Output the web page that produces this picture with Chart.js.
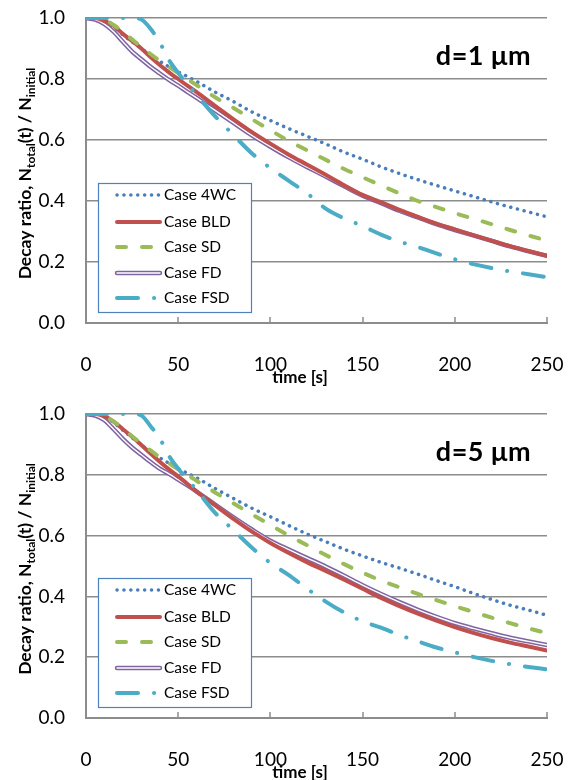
<!DOCTYPE html>
<html>
<head>
<meta charset="utf-8">
<script src="https://cdn.jsdelivr.net/npm/chart.js@4.4.1/dist/chart.umd.min.js"></script>
<style>
  body { margin: 0; background: #fff; }
  canvas { display: block; }
</style>
</head>
<body>
<canvas id="plot_d1" width="568" height="393"></canvas>
<canvas id="plot_d5" width="568" height="387"></canvas>
<script>
// time axis (s), shared by every curve
const times = [0, 5, 10, 15, 20, 25, 30, 35, 40, 45, 50, 55, 60, 70, 80, 90, 100, 110, 120, 130, 140, 150, 160, 170, 180, 190, 200, 210, 220, 230, 240, 250];
const xTicks = [0, 50, 100, 150, 200, 250];
const caseLabels = ["Case 4WC", "Case BLD", "Case SD", "Case FD", "Case FSD"];

// d = 1 um
const d1_4WC = [1.0, 1.0, 0.993, 0.972, 0.945, 0.922, 0.900, 0.878, 0.858, 0.840, 0.823, 0.808, 0.792, 0.757, 0.726, 0.692, 0.664, 0.637, 0.612, 0.587, 0.560, 0.537, 0.512, 0.490, 0.470, 0.451, 0.433, 0.415, 0.397, 0.380, 0.364, 0.348];
const d1_BLD = [1.0, 1.0, 0.990, 0.975, 0.948, 0.925, 0.900, 0.872, 0.846, 0.822, 0.800, 0.778, 0.757, 0.712, 0.668, 0.626, 0.588, 0.552, 0.519, 0.486, 0.452, 0.420, 0.396, 0.371, 0.348, 0.326, 0.307, 0.288, 0.270, 0.252, 0.236, 0.220];
const d1_SD  = [1.0, 1.0, 0.995, 0.977, 0.955, 0.930, 0.905, 0.882, 0.860, 0.840, 0.820, 0.800, 0.780, 0.740, 0.705, 0.668, 0.632, 0.597, 0.566, 0.535, 0.505, 0.478, 0.451, 0.425, 0.400, 0.380, 0.360, 0.342, 0.324, 0.305, 0.287, 0.270];
const d1_FD  = [1.0, 0.995, 0.980, 0.955, 0.922, 0.890, 0.865, 0.840, 0.818, 0.797, 0.778, 0.758, 0.738, 0.697, 0.656, 0.615, 0.578, 0.543, 0.511, 0.480, 0.448, 0.417, 0.393, 0.368, 0.346, 0.324, 0.305, 0.287, 0.269, 0.251, 0.235, 0.220];
const d1_FSD = [1.0, 1.0, 1.0, 1.0, 1.0, 1.0, 0.995, 0.965, 0.920, 0.862, 0.820, 0.783, 0.748, 0.678, 0.616, 0.556, 0.508, 0.466, 0.425, 0.375, 0.343, 0.318, 0.290, 0.267, 0.249, 0.228, 0.209, 0.193, 0.180, 0.169, 0.160, 0.150];

// d = 5 um
const d5_4WC = [1.0, 1.0, 0.993, 0.972, 0.947, 0.922, 0.898, 0.876, 0.856, 0.838, 0.820, 0.805, 0.790, 0.755, 0.722, 0.690, 0.662, 0.633, 0.605, 0.580, 0.555, 0.533, 0.512, 0.493, 0.473, 0.452, 0.432, 0.410, 0.390, 0.371, 0.355, 0.338];
const d5_BLD = [1.0, 1.0, 0.993, 0.975, 0.950, 0.925, 0.898, 0.870, 0.843, 0.818, 0.795, 0.770, 0.745, 0.700, 0.655, 0.613, 0.576, 0.543, 0.512, 0.484, 0.455, 0.425, 0.395, 0.368, 0.343, 0.320, 0.299, 0.280, 0.263, 0.248, 0.235, 0.222];
const d5_SD  = [1.0, 1.0, 0.993, 0.975, 0.952, 0.927, 0.902, 0.880, 0.858, 0.838, 0.818, 0.800, 0.780, 0.742, 0.706, 0.670, 0.635, 0.600, 0.568, 0.536, 0.506, 0.478, 0.452, 0.430, 0.408, 0.388, 0.368, 0.349, 0.330, 0.312, 0.295, 0.279];
const d5_FD  = [1.0, 0.995, 0.980, 0.950, 0.918, 0.890, 0.866, 0.842, 0.820, 0.803, 0.784, 0.765, 0.745, 0.702, 0.660, 0.620, 0.583, 0.554, 0.526, 0.498, 0.468, 0.437, 0.408, 0.381, 0.356, 0.333, 0.312, 0.295, 0.279, 0.264, 0.252, 0.240];
const d5_FSD = [1.0, 1.0, 1.0, 1.0, 1.0, 1.0, 0.995, 0.960, 0.920, 0.862, 0.820, 0.785, 0.750, 0.675, 0.618, 0.560, 0.510, 0.470, 0.425, 0.383, 0.347, 0.318, 0.297, 0.273, 0.252, 0.232, 0.216, 0.201, 0.188, 0.177, 0.168, 0.160];

// line looks, in caseLabels order
const styles = [
  { color: "#4A7EBB", width: 3.5, dash: [0.1, 6.8] },
  { color: "#C0504D", width: 4, dash: [] },
  { color: "#9BBB59", width: 4, dash: [9, 16] },
  { color: "#8064A2", width: 4.5, dash: [], inner: "#ffffff" },
  { color: "#4BACC6", width: 4, dash: [21, 16, 0.1, 16] },
];
const drawOrder = [3, 2, 1, 5, 0]; // lower is drawn on top

const FONT = "Lato, 'Open Sans', sans-serif";
const GRID = "#8C8C8C";

function points(values) {
  return values.map((v, i) => ({ x: times[i], y: v }));
}

function buildDatasets(all) {
  const sets = [];
  all.forEach((values, i) => {
    const s = styles[i];
    sets.push({
      label: caseLabels[i],
      data: points(values),
      borderColor: s.color,
      borderWidth: s.width,
      borderDash: s.dash,
      borderCapStyle: "round",
      cubicInterpolationMode: "monotone",
      pointRadius: 0,
      fill: false,
      order: drawOrder[i],
    });
    if (s.inner) {
      sets.push({
        label: caseLabels[i] + " inner",
        data: points(values),
        borderColor: s.inner,
        borderWidth: 1.4,
        cubicInterpolationMode: "monotone",
        pointRadius: 0,
        fill: false,
        order: drawOrder[i] - 0.5,
      });
    }
  });
  return sets;
}

function strokeSample(ctx, s, x0, x1, y) {
  ctx.save();
  ctx.lineCap = "round";
  ctx.setLineDash(s.dash);
  ctx.strokeStyle = s.color;
  ctx.lineWidth = s.width;
  ctx.beginPath(); ctx.moveTo(x0, y); ctx.lineTo(x1, y); ctx.stroke();
  if (s.inner) {
    ctx.setLineDash([]);
    ctx.strokeStyle = s.inner;
    ctx.lineWidth = 1.4;
    ctx.beginPath(); ctx.moveTo(x0, y); ctx.lineTo(x1, y); ctx.stroke();
  }
  ctx.restore();
}

const deco = {
  id: "deco",
  afterDraw(chart, args, opts) {
    const { ctx, chartArea: a, scales: { x } } = chart;
    ctx.save();

    // tick marks on the time axis point into the plot
    ctx.strokeStyle = GRID;
    ctx.lineWidth = 1.5;
    xTicks.slice(1).forEach(t => {
      const px = Math.round(x.getPixelForValue(t));
      ctx.beginPath(); ctx.moveTo(px, a.bottom); ctx.lineTo(px, a.bottom - 6); ctx.stroke();
    });

    // legend box
    const bx = a.left + 12, bw = 153, bh = 129, by = a.bottom - 11 - bh;
    ctx.fillStyle = "#fff";
    ctx.fillRect(bx, by, bw, bh);
    ctx.strokeStyle = "#4F81BD";
    ctx.lineWidth = 1.2;
    ctx.strokeRect(bx + 0.5, by + 0.5, bw, bh);
    const rows = [12, 39, 64, 90, 115];
    ctx.font = "15.5px " + FONT;
    ctx.fillStyle = "#000";
    ctx.textBaseline = "middle";
    ctx.textAlign = "left";
    caseLabels.forEach((lab, i) => {
      strokeSample(ctx, styles[i], bx + 19, bx + 62, by + rows[i]);
      ctx.fillText(lab, bx + 66, by + rows[i]);
    });

    // panel note
    ctx.font = "bold 27px " + FONT;
    ctx.letterSpacing = "0.5px";
    ctx.textAlign = "right";
    ctx.textBaseline = "alphabetic";
    ctx.fillText(opts.note, a.right - 16, a.top + 47);
    ctx.letterSpacing = "0px";

    // x title
    ctx.font = "bold 17px " + FONT;
    ctx.textAlign = "center";
    ctx.textBaseline = "middle";
    ctx.fillText("time [s]", a.left + 214, a.bottom + 55);

    // y title with subscripts, rotated
    const parts = [
      ["Decay ratio, N", false], ["total", true], ["(t) / N", false], ["initial", true],
    ];
    const big = "bold 17.5px " + FONT, small = "bold 12px " + FONT;
    let total = 0;
    parts.forEach(p => { ctx.font = p[1] ? small : big; total += ctx.measureText(p[0]).width; });
    ctx.translate(31, (a.top + a.bottom) / 2 + 3);
    ctx.rotate(-Math.PI / 2);
    ctx.textAlign = "left";
    ctx.textBaseline = "alphabetic";
    let u = -total / 2;
    parts.forEach(p => {
      ctx.font = p[1] ? small : big;
      ctx.fillText(p[0], u, p[1] ? 4 : 0);
      u += ctx.measureText(p[0]).width;
    });
    ctx.restore();
  },
};

function makePlot(id, all, note, padTop, axisHeight) {
  return new Chart(document.getElementById(id), {
    type: "line",
    data: { datasets: buildDatasets(all) },
    options: {
      responsive: false,
      animation: false,
      layout: { padding: { top: padTop, right: 21, left: 0, bottom: 0 } },
      plugins: {
        legend: { display: false },
        tooltip: { enabled: false },
        deco: { note: note },
      },
      scales: {
        x: {
          type: "linear",
          min: 0,
          max: 250,
          afterBuildTicks: s => { s.ticks = xTicks.map(v => ({ value: v })); },
          afterFit: s => { s.height = axisHeight; s.paddingLeft = 0; s.paddingRight = 0; },
          grid: { display: false, drawTicks: false },
          border: { color: GRID, width: 2 },
          ticks: { padding: 30, color: "#000", font: { family: FONT, size: 19 }, maxRotation: 0 },
        },
        y: {
          min: 0,
          max: 1,
          afterFit: s => { s.width = 86; s.paddingTop = 0; s.paddingBottom = 0; },
          grid: { color: GRID, lineWidth: 1.5, drawTicks: false },
          border: { color: GRID, width: 2 },
          ticks: {
            stepSize: 0.2,
            padding: 21,
            color: "#000",
            font: { family: FONT, size: 19 },
            callback: v => v.toFixed(1),
          },
        },
      },
    },
    plugins: [deco],
  });
}

var plot_d1 = makePlot("plot_d1", [d1_4WC, d1_BLD, d1_SD, d1_FD, d1_FSD], "d=1 \u03bcm", 18, 70);
var plot_d5 = makePlot("plot_d5", [d5_4WC, d5_BLD, d5_SD, d5_FD, d5_FSD], "d=5 \u03bcm", 21, 62);
</script>
</body>
</html>
